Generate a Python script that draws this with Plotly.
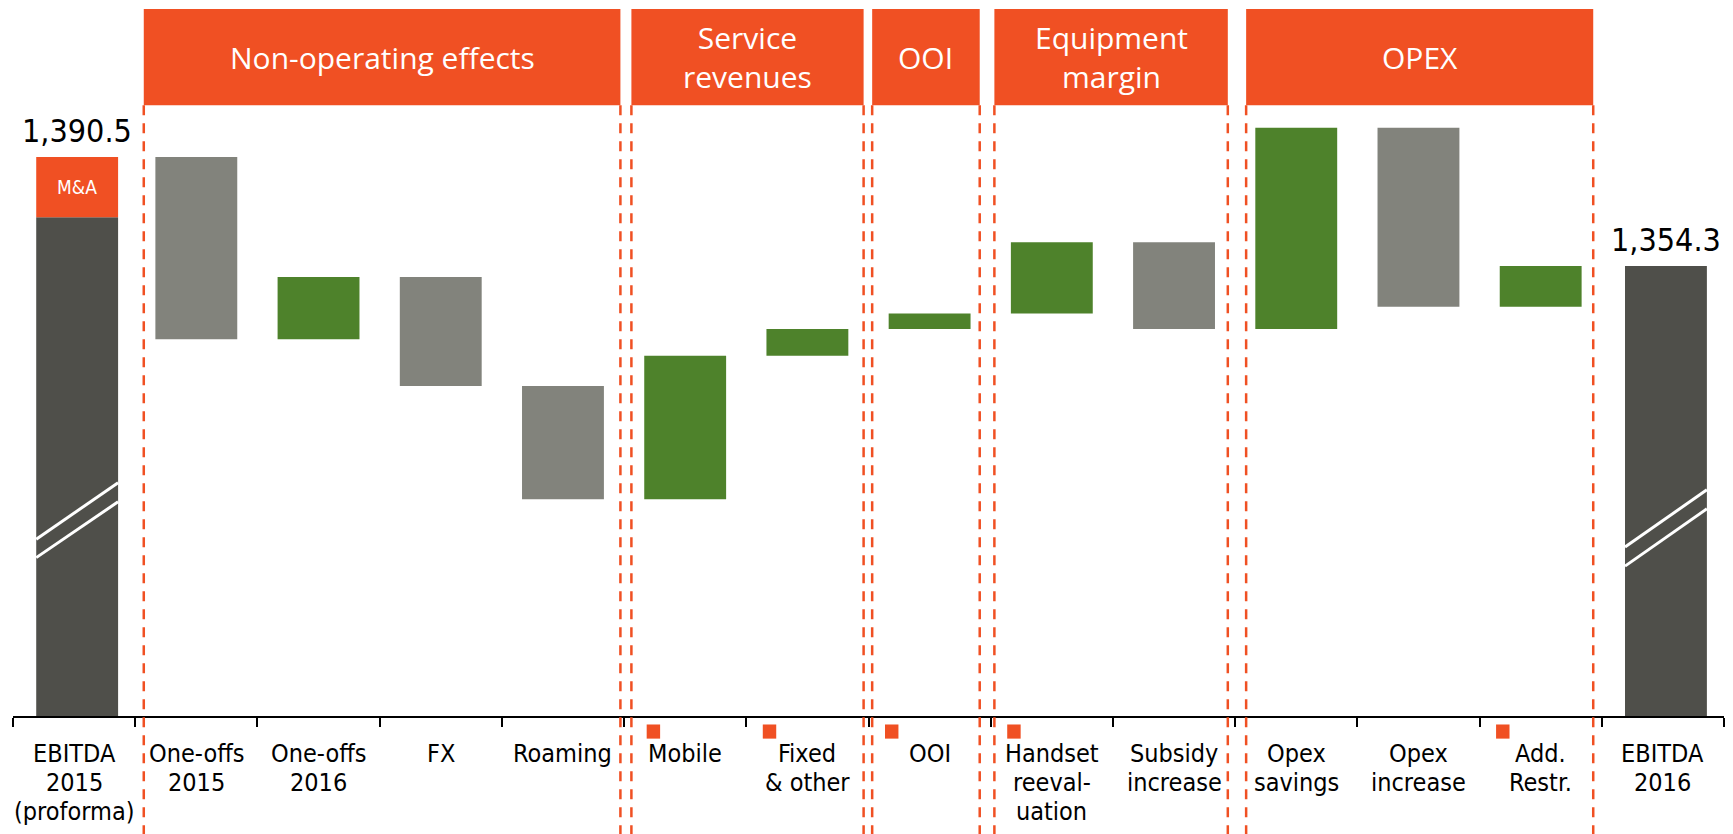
import plotly.graph_objects as go

# category labels (bottom of chart)
categories = ["EBITDA<br>2015<br>(proforma)", "One-offs<br>2015", "One-offs<br>2016", "FX", "Roaming",
              "Mobile", "Fixed<br>& other", "OOI", "Handset<br>reeval-<br>uation", "Subsidy<br>increase",
              "Opex<br>savings", "Opex<br>increase", "Add.<br>Restr.", "EBITDA<br>2016"]

# values
start_total = 1390.5
ma_effect = 20.0
end_total = 1354.3
changes = [-60.5, 20.7, -36.2, -37.6, 47.6, 8.9, 5.2, 23.6, -28.8, 66.8, -59.4, 13.5]

# categories carrying the little orange flag
flagged = ["Mobile", "Fixed<br>& other", "OOI", "Handset<br>reeval-<br>uation", "Add.<br>Restr."]

# header groups
group_names = ["Non-operating effects", "Service<br>revenues", "OOI", "Equipment<br>margin", "OPEX"]
group_spans = [(0.57, 4.47), (4.56, 6.46), (6.53, 7.41), (7.53, 9.44), (9.59, 12.43)]

ORANGE = "#F05023"
GREEN = "#4E822B"
GREY = "#82837C"
DARK = "#4F4F4A"
FONT = "DejaVu Sans Condensed, Liberation Sans Narrow, Tahoma, DejaVu Sans"

y_floor = 1205.0   # broken axis: bars start here
y_top = 1439.6

# waterfall bases
bases, heights, colors = [], [], []
level = start_total
for d in changes:
    bases.append(min(level, level + d))
    heights.append(abs(d))
    colors.append(GREEN if d > 0 else GREY)
    level += d

fig = go.Figure()

# totals (dark)
fig.add_trace(go.Bar(x=[categories[0], categories[-1]],
                     y=[start_total - ma_effect - y_floor, end_total - y_floor],
                     base=[y_floor, y_floor], width=0.67, offset=-0.31,
                     marker=dict(color=DARK, line_width=0), showlegend=False))
# M&A slice
fig.add_trace(go.Bar(x=[categories[0]], y=[ma_effect], base=[start_total - ma_effect], width=0.67,
                     offset=-0.31,
                     marker=dict(color=ORANGE, line_width=0), showlegend=False,
                     text=["M&A"], textposition="inside", insidetextanchor="middle",
                     textfont=dict(color="white", size=19, family=FONT)))
# changes
fig.add_trace(go.Bar(x=categories[1:-1], y=heights, base=bases, width=0.67,
                     marker=dict(color=colors, line_width=0), showlegend=False))

shapes = []
annotations = []

# header boxes + dashed guides
for name, (a, b) in zip(group_names, group_spans):
    shapes.append(dict(type="rect", xref="x", yref="paper", x0=a, x1=b, y0=0.864, y1=1.0,
                       fillcolor=ORANGE, line_width=0, layer="above"))
    for xv in (a, b):
        shapes.append(dict(type="line", xref="x", yref="paper", x0=xv, x1=xv, y0=0.864, y1=-0.17,
                           line=dict(color=ORANGE, width=2.5, dash="10px,8px")))
    annotations.append(dict(x=(a + b) / 2, y=0.932, xref="x", yref="paper", text=name,
                            showarrow=False, xanchor="center", yanchor="middle",
                            font=dict(color="white", size=30, family="Open Sans")))

# axis break marks
for cx, segs in [(0.025, [(0.250, 0.330), (0.224, 0.303)]), (13.025, [(0.239, 0.320), (0.212, 0.293)])]:
    for y0, y1 in segs:
        shapes.append(dict(type="line", xref="x", yref="paper", x0=cx - 0.335, x1=cx + 0.335,
                           y0=y0, y1=y1, line=dict(color="white", width=3)))

# bottom labels, one annotation per line for tighter leading
line_step = 29 / 707
for i, lab in enumerate(categories):
    for j, part in enumerate(lab.split("<br>")):
        annotations.append(dict(x=i, y=-0.03 - j * line_step, xref="x", yref="paper", text=part,
                                showarrow=False, xanchor="center", yanchor="top",
                                font=dict(color="black", size=25, family=FONT)))
    if lab in flagged:
        off = -0.26 if lab == "Mobile" else -0.31
        shapes.append(dict(type="rect", xref="x", yref="paper", x0=i + off - 0.055, x1=i + off + 0.055,
                           y0=-0.012, y1=-0.032, fillcolor=ORANGE, line_width=0))

# total value labels
annotations.append(dict(x=0.025, y=start_total, xref="x", yref="y", text="1,390.5", showarrow=False,
                        yanchor="bottom", yshift=5, font=dict(color="black", size=32, family=FONT)))
annotations.append(dict(x=13.025, y=end_total, xref="x", yref="y", text="1,354.3", showarrow=False,
                        yanchor="bottom", yshift=5, font=dict(color="black", size=32, family=FONT)))

fig.update_layout(
    width=1733, height=834,
    margin=dict(l=13, r=9, t=9, b=118),
    plot_bgcolor="white", paper_bgcolor="white",
    barmode="overlay",
    shapes=shapes, annotations=annotations,
    xaxis=dict(type="category", categoryorder="array", categoryarray=categories, range=[-0.5, 13.5],
               showline=True, linecolor="black", linewidth=2,
               ticks="outside", tickson="boundaries", ticklen=9, tickwidth=2, tickcolor="black",
               showticklabels=False, showgrid=False, fixedrange=True),
    yaxis=dict(range=[y_floor, y_top], visible=False, showgrid=False, fixedrange=True),
)

fig.write_html("out.html", config={"displayModeBar": False},
               post_script="document.body.style.margin='0';")
